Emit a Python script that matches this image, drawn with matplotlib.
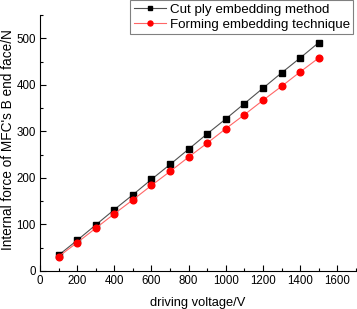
import matplotlib
matplotlib.use("Agg")
import matplotlib.pyplot as plt
from matplotlib.ticker import MultipleLocator

plt.rcParams['font.family'] = ['Liberation Sans', 'DejaVu Sans']

voltage = [100, 200, 300, 400, 500, 600, 700, 800, 900, 1000, 1100, 1200, 1300, 1400, 1500]
cut_ply = [34, 66, 99, 132, 164, 197, 229, 262, 295, 327, 360, 393, 426, 458, 491]
forming = [31, 61, 92, 123, 153, 184, 214, 245, 275, 306, 336, 367, 397, 428, 458]

fig = plt.figure(figsize=(3.57, 3.09), dpi=100)
ax = fig.add_axes([0.112, 0.123, 0.885, 0.828])

ax.plot(voltage, cut_ply, color='#505050', lw=0.8, marker='s', ms=4.2,
        mfc='black', mec='black', label='Cut ply embedding method')
ax.plot(voltage, forming, color='#ff6666', lw=0.8, marker='o', ms=4.8,
        mfc='red', mec='red', label='Forming embedding technique')

ax.set_xlim(0, 1700)
ax.set_ylim(0, 550)
ax.xaxis.set_major_locator(MultipleLocator(200))
ax.xaxis.set_minor_locator(MultipleLocator(100))
ax.yaxis.set_major_locator(MultipleLocator(100))
ax.yaxis.set_minor_locator(MultipleLocator(50))
ax.tick_params(which='both', direction='in', labelsize=8.3, width=0.8)
ax.tick_params(which='major', length=4, pad=3)
ax.tick_params(which='minor', length=2)
for s in ['top', 'right']:
    ax.spines[s].set_visible(False)

ax.set_xlabel('driving voltage/V', fontsize=9.3)
ax.set_ylabel("Internal force of MFC's B end face/N", fontsize=9.8)
ax.yaxis.set_label_coords(-0.100, 0.515)
ax.xaxis.set_label_coords(0.5, -0.125)
ax.xaxis.label.set_va('center')
ax.yaxis.label.set_va('center')

leg = ax.legend(loc='upper right', bbox_to_anchor=(353/357, 1.0), bbox_transform=fig.transFigure,
                fontsize=9.6, frameon=True, fancybox=False, edgecolor='#808080',
                borderpad=0.25, handlelength=2.4, labelspacing=0.2, handletextpad=0.3,
                borderaxespad=0.0, markerscale=0.75, framealpha=1)
leg.get_frame().set_linewidth(0.8)

fig.savefig('out.png', dpi=100)
